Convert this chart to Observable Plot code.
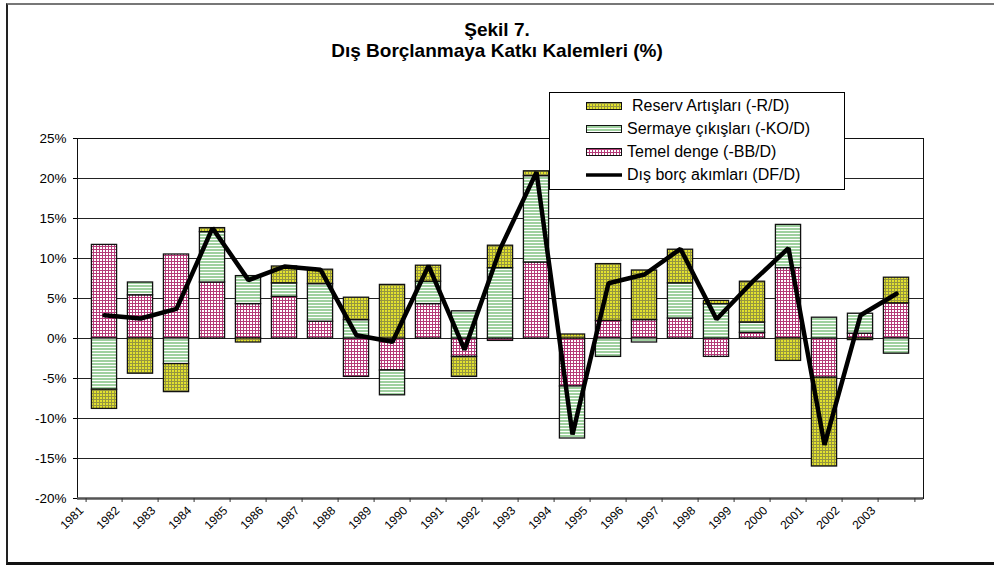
<!DOCTYPE html>
<html>
<head>
<meta charset="utf-8">
<script src="https://cdn.jsdelivr.net/npm/d3@7"></script>
<script src="https://cdn.jsdelivr.net/npm/@observablehq/plot@0.6"></script>
<style>
  html, body { margin: 0; padding: 0; background: #fff; }
  #wrap { position: relative; width: 994px; height: 568px; overflow: hidden; font-family: "Liberation Sans", Arial, sans-serif; }
  #frame { position: absolute; left: 6px; top: 3px; width: 1000px; height: 562px; border-left: 2px solid #222; border-top: 2px solid #777; border-bottom: 3px solid #111; box-sizing: border-box; }
  #chart { position: absolute; left: 0; top: 0; }
  .title { position: absolute; left: 0; width: 994px; text-align: center; font-weight: bold; font-size: 19px; color: #000; }
  #legend { position: absolute; left: 549px; top: 92px; width: 296px; height: 98px; border: 1px solid #000; background: #fff; box-sizing: border-box; }
  .lg { position: absolute; font-size: 16px; color: #000; white-space: nowrap; line-height: 1; }
  .sw { position: absolute; }
</style>
</head>
<body>
<svg width="0" height="0" style="position:absolute">
  <defs>
    <pattern id="patPink" width="3" height="3" patternUnits="userSpaceOnUse">
      <rect width="3" height="3" fill="#ffffff"/>
      <rect width="3" height="1" fill="#b53a78"/>
      <rect width="1" height="3" fill="#b53a78"/>
    </pattern>
    <pattern id="patGreen" width="3" height="3" patternUnits="userSpaceOnUse">
      <rect width="3" height="3" fill="#ffffff"/>
      <rect width="3" height="2" fill="#9fd09f"/>
    </pattern>
    <pattern id="patYellow" width="3" height="3" patternUnits="userSpaceOnUse">
      <rect width="3" height="3" fill="#e2e22e"/>
      <rect width="3" height="1" fill="#959540"/>
      <rect width="1" height="3" fill="#959540"/>
    </pattern>
  </defs>
</svg>
<div id="wrap">
  <div id="frame"></div>
  <div id="chart"></div>
  <div class="title" style="top:19px">Şekil 7.</div>
  <div class="title" style="top:40px">Dış Borçlanmaya Katkı Kalemleri (%)</div>
  <div id="legend"></div>
</div>
<script>
// ---- data ----
const years = ["1981","1982","1983","1984","1985","1986","1987","1988","1989","1990","1991","1992",
               "1993","1994","1995","1996","1997","1998","1999","2000","2001","2002","2003"];
const temelDenge      = [11.7, 5.4, 10.5, 7.0, 4.3, 5.2, 2.1, -4.8, -4.0, 4.3, -2.3, -0.3,
                          9.5, -6.0, 2.2, 2.3, 2.5, -2.3, 0.7, 8.8, -4.9, 0.6, 4.4];
const sermayeCikislari = [-6.4, 1.6, -3.2, 6.3, 3.5, 1.7, 4.7, 2.3, -3.1, 2.8, 3.4, 8.8,
                          10.8, -6.5, -2.3, -0.5, 4.4, 4.3, 1.3, 5.4, 2.6, 2.5, -1.9];
const reservArtislari = [-2.4, -4.4, -3.5, 0.5, -0.5, 2.1, 1.8, 2.8, 6.7, 2.0, -2.5, 2.8,
                          0.6, 0.5, 7.1, 6.2, 4.2, 0.4, 5.1, -2.8, -11.1, -0.2, 3.2];
const disBorcAkimlari = [2.9, 2.5, 3.7, 13.8, 7.3, 9.0, 8.6, 0.4, -0.4, 9.1, -1.4, 11.3,
                          20.8, -12.0, 6.9, 8.0, 11.2, 2.4, 7.1, 11.3, -13.3, 2.9, 5.6];
const seriesNames = ["Reserv Artışları (-R/D)", "Sermaye çıkışları (-KO/D)", "Temel denge (-BB/D)", "Dış borç akımları (DF/D)"];
const yTicks = [-20, -15, -10, -5, 0, 5, 10, 15, 20, 25];

// ---- build tables ----
const fillOf = {BB: "url(#patPink)", KO: "url(#patGreen)", R: "url(#patYellow)"};
const rows = years.flatMap((y, i) => [
  {year: y, series: "BB", value: temelDenge[i]},
  {year: y, series: "KO", value: sermayeCikislari[i]},
  {year: y, series: "R",  value: reservArtislari[i]}
]);
const lineRows = years.map((y, i) => ({year: y, df: disBorcAkimlari[i]}));

const W = 994, H = 568, mL = 77, mR = 71, mT = 138, mB = 70;
const step = (W - mL - mR) / years.length;
const inset = step * 0.147;

const chart = Plot.plot({
  width: W, height: H,
  marginLeft: mL, marginRight: mR, marginTop: mT, marginBottom: mB,
  style: {fontFamily: "'Liberation Sans', Arial, sans-serif", fontSize: "13.5px", color: "#000", background: "transparent"},
  x: {type: "band", domain: years, padding: 0, label: null},
  y: {domain: [-20, 25], label: null},
  color: {type: "identity"},
  marks: [
    Plot.ruleY(yTicks.filter(d => d > -20), {stroke: "#222", strokeWidth: 1}),
    Plot.frame({stroke: "#111", strokeWidth: 1}),
    Plot.barY(rows, Plot.stackY({
      x: "year", y: "value", z: "series",
      fill: d => fillOf[d.series],
      stroke: "#111", strokeWidth: 1.3,
      insetLeft: inset, insetRight: inset
    })),
    Plot.line(lineRows, {x: "year", y: "df", stroke: "#000", strokeWidth: 4.5, strokeLinejoin: "miter"}),
    Plot.ruleY([-20], {stroke: "#555", strokeWidth: 2.5}),
    Plot.axisY({ticks: yTicks, tickFormat: d => d + "%", tickSize: 4, tickPadding: 7, fontSize: 13.5}),
    Plot.axisX({tickSize: 4, tickFormat: () => "", dx: -step / 2, stroke: "#333"}),
    Plot.axisX({ticks: ["2003"], tickSize: 4, tickFormat: () => "", dx: step / 2, stroke: "#333"}),
    Plot.axisX({tickSize: 0, tickPadding: 10, tickRotate: -45, dx: -23, fontSize: 12})
  ]
});
document.getElementById("chart").appendChild(chart);

// ---- legend ----
const legend = document.getElementById("legend");
const lx = 549, ly = 92;
const items = [
  {name: seriesNames[0], fill: "url(#patYellow)", cy: 106, tx: 632},
  {name: seriesNames[1], fill: "url(#patGreen)",  cy: 129, tx: 627},
  {name: seriesNames[2], fill: "url(#patPink)",   cy: 152, tx: 627},
  {name: seriesNames[3], fill: null,              cy: 175, tx: 627}
];
items.forEach(it => {
  const sw = document.createElementNS("http://www.w3.org/2000/svg", "svg");
  sw.setAttribute("width", 40); sw.setAttribute("height", 12);
  sw.setAttribute("class", "sw");
  sw.style.left = (586 - lx - 1) + "px";
  sw.style.top = (it.cy - 6 - ly - 1) + "px";
  if (it.fill) {
    sw.innerHTML = `<rect x="0.5" y="2.5" width="35" height="7" fill="${it.fill}" stroke="#111" stroke-width="1"/>`;
  } else {
    sw.innerHTML = `<line x1="0" x2="36" y1="6" y2="6" stroke="#000" stroke-width="3.5"/>`;
  }
  legend.appendChild(sw);
  const t = document.createElement("div");
  t.className = "lg";
  t.textContent = it.name;
  t.style.left = (it.tx - lx - 1) + "px";
  t.style.top = (it.cy - 8 - ly - 1) + "px";
  legend.appendChild(t);
});
</script>
</body>
</html>
